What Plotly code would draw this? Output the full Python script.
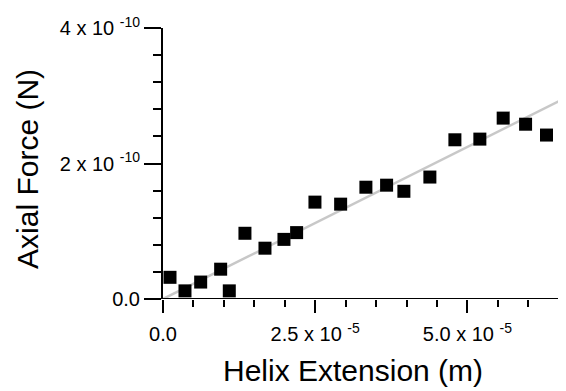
import plotly.graph_objects as go

# Data
extension_m = [0.115e-5, 0.361e-5, 0.619e-5, 0.947e-5, 1.089e-5, 1.346e-5, 1.675e-5,
               1.987e-5, 2.195e-5, 2.496e-5, 2.918e-5, 3.333e-5, 3.673e-5, 3.957e-5,
               4.384e-5, 4.795e-5, 5.205e-5, 5.588e-5, 5.956e-5, 6.300e-5]
force_N = [0.32e-10, 0.12e-10, 0.25e-10, 0.44e-10, 0.12e-10, 0.97e-10, 0.75e-10,
           0.88e-10, 0.98e-10, 1.43e-10, 1.40e-10, 1.65e-10, 1.68e-10, 1.59e-10,
           1.80e-10, 2.35e-10, 2.36e-10, 2.67e-10, 2.58e-10, 2.42e-10]
fit_slope = 4.49e-6  # N/m
fit_x = [0.0, 6.62e-5]
fit_y = [fit_slope * v for v in fit_x]

x_tickvals = [0.0, 2.5e-5, 5.0e-5]
x_ticktext = ["0.0", "2.5 x 10 <sup>-5</sup>", "5.0 x 10 <sup>-5</sup>"]
y_tickvals = [0.0, 2e-10, 4e-10]
y_ticktext = ["0.0", "2 x 10 <sup>-10</sup>", "4 x 10 <sup>-10</sup>"]
x_minor = [i * 0.5e-5 for i in range(1, 14) if i % 5 != 0]
y_minor = [i * 0.4e-10 for i in range(1, 10) if i % 5 != 0]
x_title = "Helix Extension (m)"
y_title = "Axial Force (N)"

FONT = "Liberation Sans, Arial, Helvetica, sans-serif"

fig = go.Figure()
fig.add_trace(go.Scatter(x=fit_x, y=fit_y, mode="lines",
                         line=dict(color="#c8c8c8", width=2.5),
                         hoverinfo="skip", showlegend=False))
fig.add_trace(go.Scatter(x=extension_m, y=force_N, mode="markers",
                         marker=dict(symbol="square", size=13, color="black"),
                         cliponaxis=False, showlegend=False))

fig.add_shape(type="line", xref="x", yref="y", x0=0, x1=6.55e-5, y0=0, y1=0,
              line=dict(color="black", width=2), layer="above")

fig.add_annotation(text=x_title, xref="paper", yref="paper", x=0.4727, y=-0.262,
                   xanchor="center", yanchor="middle", showarrow=False,
                   font=dict(size=30, family=FONT, color="black"))
fig.add_annotation(text=y_title, xref="paper", yref="paper", x=-0.335, y=0.48,
                   xanchor="center", yanchor="middle", showarrow=False, textangle=-90,
                   font=dict(size=30, family=FONT, color="black"))

# the page body adds an 8px margin, so the figure is 8px smaller than the window
fig.update_layout(
    width=558, height=383,
    margin=dict(l=155, r=0, t=20, b=92),
    paper_bgcolor="white", plot_bgcolor="white",
    font=dict(family=FONT, color="black"),
    xaxis=dict(range=[0, 6.62e-5], showgrid=False, zeroline=False, showline=False,
               automargin=False,
               tickmode="array", tickvals=x_tickvals, ticktext=x_ticktext,
               ticks="outside", ticklen=13, tickwidth=2, tickcolor="black",
               ticklabelstandoff=4,
               tickfont=dict(size=20, family=FONT),
               minor=dict(tickmode="array", tickvals=x_minor, ticks="outside",
                          ticklen=7, tickwidth=2, tickcolor="black", showgrid=False)),
    yaxis=dict(range=[0, 4e-10], showgrid=False, zeroline=False, showline=True,
               automargin=False,
               linecolor="black", linewidth=2,
               tickmode="array", tickvals=y_tickvals, ticktext=y_ticktext,
               ticks="outside", ticklen=17, tickwidth=2, tickcolor="black",
               tickfont=dict(size=20, family=FONT),
               minor=dict(tickmode="array", tickvals=y_minor, ticks="outside",
                          ticklen=8, tickwidth=2, tickcolor="black", showgrid=False)),
)

fig.write_html("out.html")
